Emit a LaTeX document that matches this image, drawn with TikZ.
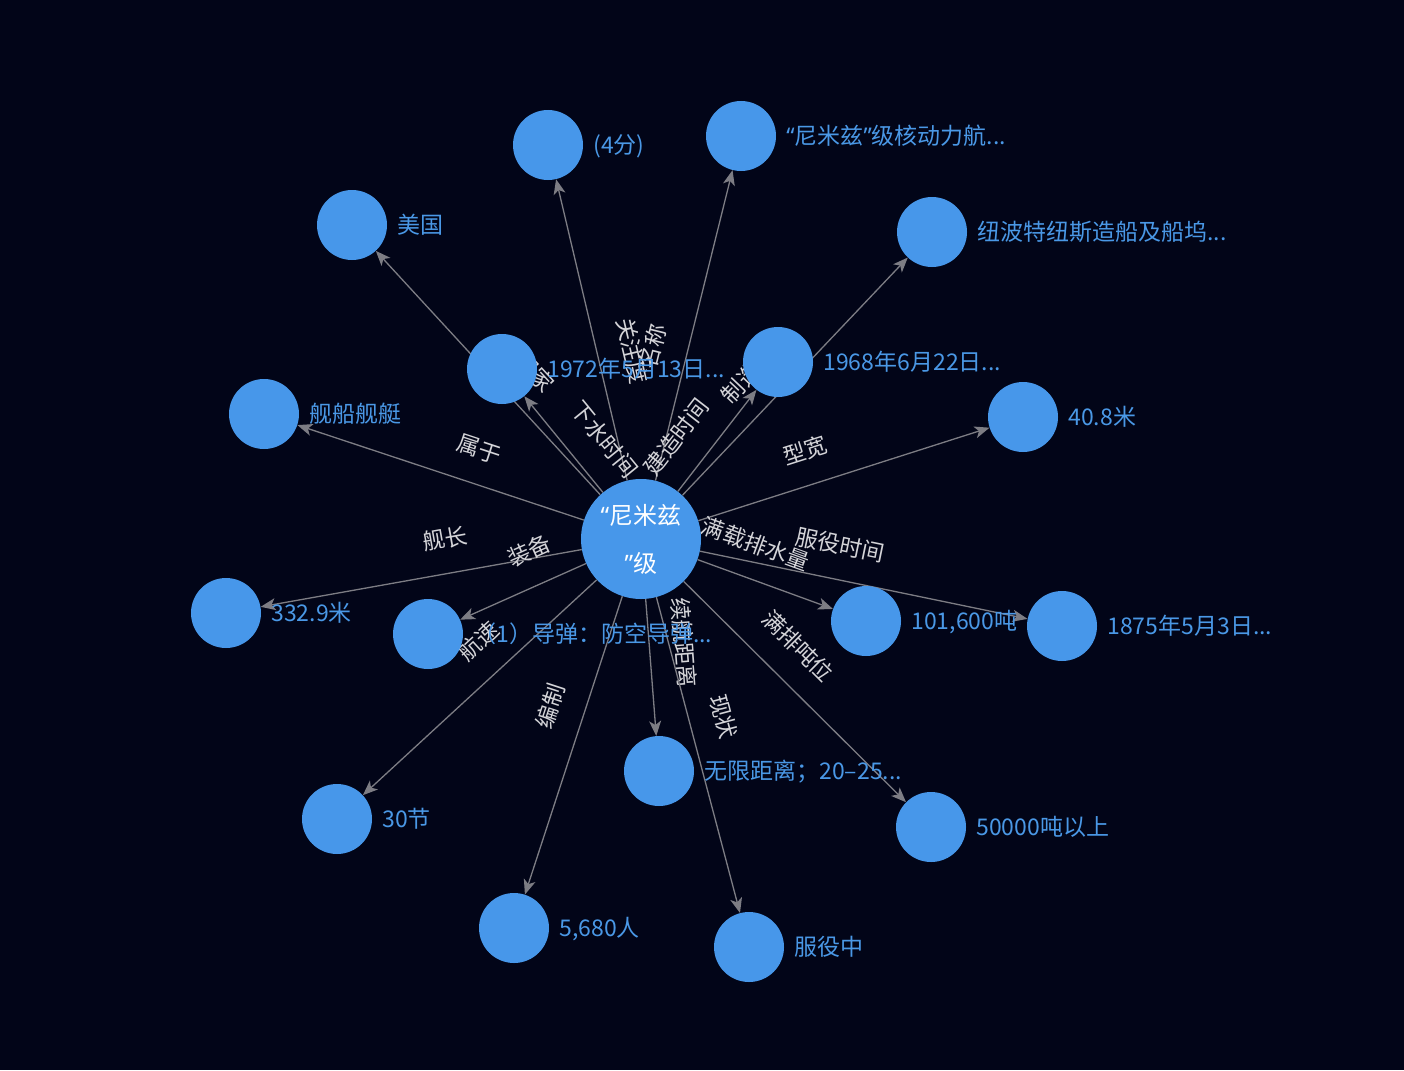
\documentclass[tikz,border=0pt]{standalone}
\usepackage{fontspec}
\setmainfont{Noto Sans CJK SC}
\newfontfamily\qfont{Noto Sans}
\usetikzlibrary{arrows.meta}
\definecolor{bgc}{RGB}{2,5,24}
\definecolor{nodec}{RGB}{71,151,234}
\definecolor{labc}{RGB}{74,152,230}
\definecolor{edgec}{RGB}{125,125,132}
\definecolor{elabc}{RGB}{212,212,216}
\pgfdeclarelayer{bg}
\pgfdeclarelayer{edges}
\pgfsetlayers{bg,edges,main}
\tikzset{
  ent/.style={circle, fill=nodec, minimum size=70pt, inner sep=0pt},
  hub/.style={circle, fill=nodec, minimum size=120pt, inner sep=0pt, text=white, align=center, font=\fontsize{24}{48}\selectfont},
  nlab/.style={text=labc, font=\fontsize{23}{27}\selectfont, inner sep=0pt, xshift=10pt, text height=18pt, text depth=2pt},
  edge/.style={draw=edgec, line width=1.3pt, -{Stealth[length=15pt,width=12pt,inset=4pt]}},
  elab/.style={sloped, anchor=south, pos=0.457, inner xsep=0pt, inner ysep=24pt, text height=18pt, text depth=2pt, text=elabc, font=\fontsize{22.5}{27}\selectfont},
}
\begin{document}
\begin{tikzpicture}[x=1pt, y=-1pt]
\useasboundingbox (0,0) rectangle (1404,1070);
\begin{pgfonlayer}{bg}
\fill[bgc] (0,0) rectangle (1404,1070);
\end{pgfonlayer}

\node[hub] (c) at (641,539) {{\qfont “}尼米兹\\{\qfont ”}级};

\node[ent, label={[nlab]0:(4分)}] (n1) at (548,145) {};
\node[ent, label={[nlab]0:{{\qfont “}尼米兹{\qfont ”}级核动力航...}}] (n2) at (741,136) {};
\node[ent, label={[nlab]0:美国}] (n3) at (352,225) {};
\node[ent, label={[nlab]0:纽波特纽斯造船及船坞...}] (n4) at (932,232) {};
\node[ent, label={[nlab]0:1972年5月13日...}] (n5) at (502,369) {};
\node[ent, label={[nlab]0:1968年6月22日...}] (n6) at (778,362) {};
\node[ent, label={[nlab]0:舰船舰艇}] (n7) at (264,414) {};
\node[ent, label={[nlab]0:40.8米}] (n8) at (1023,417) {};
\node[ent, label={[nlab]0:332.9米}] (n9) at (226,613) {};
\node[ent, label={[nlab]0:（1）导弹：防空导弹...}] (n10) at (428,634) {};
\node[ent, label={[nlab]0:{101,600吨}}] (n11) at (866,621) {};
\node[ent, label={[nlab]0:1875年5月3日...}] (n12) at (1062,626) {};
\node[ent, label={[nlab]0:无限距离；20–25...}] (n13) at (659,771) {};
\node[ent, label={[nlab]0:30节}] (n14) at (337,819) {};
\node[ent, label={[nlab]0:50000吨以上}] (n15) at (931,827) {};
\node[ent, label={[nlab]0:{5,680人}}] (n16) at (514,928) {};
\node[ent, label={[nlab]0:服役中}] (n17) at (749,947) {};

\begin{pgfonlayer}{edges}
\foreach \t/\l in {n1/关注度, n2/名称, n3/国家, n4/制造商, n5/下水时间, n6/建造时间,
  n7/属于, n8/型宽, n9/舰长, n10/装备, n11/满载排水量, n12/服役时间,
  n13/续航距离, n14/航速, n15/满排吨位, n16/编制, n17/现状} {
  \draw[edge] (c) -- (\t);
  \path (c.center) -- (\t.center) node[elab] {\l};
}
\end{pgfonlayer}
\end{tikzpicture}
\end{document}
